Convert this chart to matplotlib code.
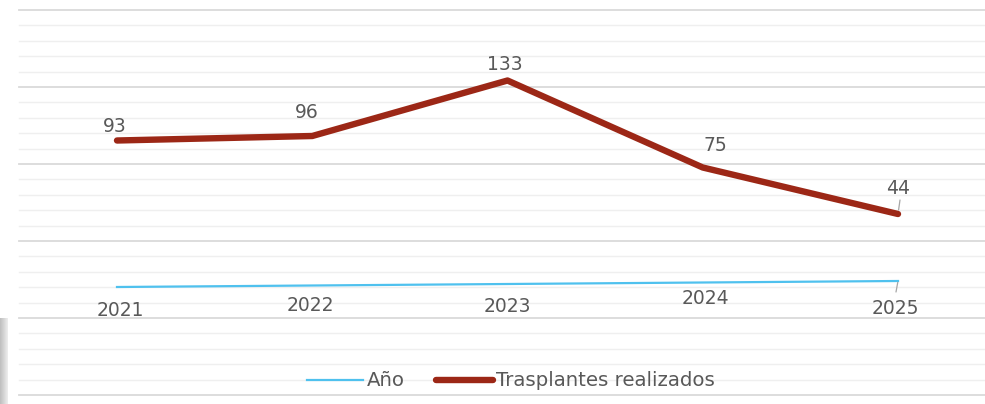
import matplotlib
matplotlib.use("Agg")
import matplotlib.pyplot as plt
import numpy as np

# Datos
anios = [2021, 2022, 2023, 2024, 2025]
trasplantes = [93, 96, 133, 75, 44]
etiquetas_anio = ["2021", "2022", "2023", "2024", "2025"]

# desplazamiento (px) de cada etiqueta respecto a su punto
off_trasp = [(-2, 14), (-6, 24), (-3, 16), (13, 22), (0, 25)]
off_anio = [(3, -23), (-2, -20), (0, -23), (3, -16), (-3, -27)]

W, H = 985, 404
fig = plt.figure(figsize=(W / 100, H / 100), dpi=100)
fig.patch.set_facecolor("white")

# Fondo: lineas horizontales de la hoja
bg = fig.add_axes([0, 0, 1, 1])
bg.axis("off")
for k in range(26):
    y = 10 + 15.4 * k
    dark = (k % 5 == 0)
    bg.plot([19, W], [y, y], color="#dadada" if dark else "#efefef",
            lw=1.3 if dark else 1.0, zorder=0)
bg.imshow(np.linspace(0.75, 0.92, 8)[None, :], cmap="gray", vmin=0, vmax=1,
          extent=(0, 8, 404, 318), aspect="auto", zorder=1)
bg.set_xlim(0, W)
bg.set_ylim(H, 0)

# Escala: px por unidad
ppu = 1.50
x_px0, x_ppu = 117, 195.25
y0_trasp = 280.0   # pixel y del valor 0
y0_anio = 287.0    # pixel y del año 2021

x = np.arange(len(anios))

ax = fig.add_axes([0, 0, 1, 1])
ax.patch.set_alpha(0)
ax.set_xlim(-x_px0 / x_ppu, (W - x_px0) / x_ppu)
ax.set_ylim((y0_trasp - H) / ppu, y0_trasp / ppu)
ax.axis("off")

ax2 = ax.twinx()
ax2.set_ylim(2021 + (y0_anio - H) / ppu, 2021 + y0_anio / ppu)
ax2.axis("off")

azul = "#4fc1ee"
rojo = "#9c2716"
gris = "#595959"

l1, = ax2.plot(x, anios, color=azul, lw=1.6, label="Año", zorder=3)
l2, = ax.plot(x, trasplantes, color=rojo, lw=4.6, solid_capstyle="round",
              solid_joinstyle="round", label="Trasplantes realizados", zorder=4)

fs = 13.5
for i, v in enumerate(trasplantes):
    dx, dy = off_trasp[i]
    ax.annotate(str(v), (x[i], v), xytext=(dx, dy), textcoords="offset pixels",
                ha="center", va="center", fontsize=fs, color=gris, zorder=5)

for i, v in enumerate(anios):
    dx, dy = off_anio[i]
    ax2.annotate(etiquetas_anio[i], (x[i], v), xytext=(dx, dy), textcoords="offset pixels",
                 ha="center", va="center", fontsize=fs, color=gris, zorder=5)

# lineas guia de las etiquetas movidas
ax.annotate("", (x[4], trasplantes[4]), xytext=(2, 14), textcoords="offset pixels",
            arrowprops=dict(arrowstyle="-", color="#a6a6a6", lw=0.9, shrinkA=0, shrinkB=3))
ax2.annotate("", (x[4], anios[4]), xytext=(-2, -11), textcoords="offset pixels",
             arrowprops=dict(arrowstyle="-", color="#a6a6a6", lw=0.9, shrinkA=0, shrinkB=1))

leg = fig.legend(handles=[l1, l2], loc="center", bbox_to_anchor=(511 / W, 1 - 381 / H),
                 ncol=2, frameon=False, fontsize=14.2, handlelength=2.85,
                 columnspacing=1.6, handletextpad=0.2)
for t in leg.get_texts():
    t.set_color(gris)

fig.savefig("out.png", dpi=100, facecolor="white")
